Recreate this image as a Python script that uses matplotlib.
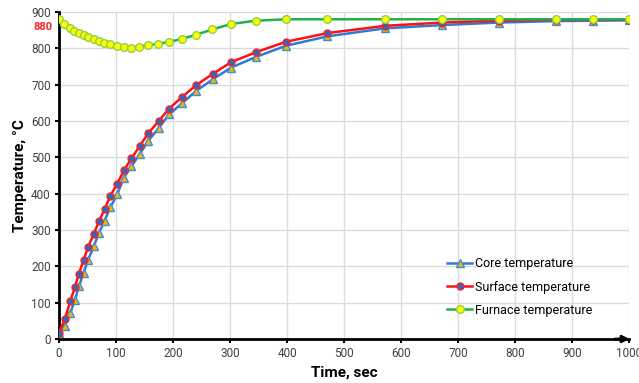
import matplotlib
matplotlib.use("Agg")
import matplotlib.pyplot as plt

time_s = [0, 10, 20, 28, 35, 43, 51, 61, 70, 80, 90, 102, 114, 127, 142, 157,
          175, 193, 216, 240, 270, 302, 345, 398, 471, 572, 672, 772, 872, 936, 1000]
furnace_t = [0, 9.4, 18.7, 27, 35, 43, 51, 61, 70, 79.5, 89.5, 101, 113.5, 126, 140, 155.5,
             174, 193, 215, 240, 269, 302, 345, 398, 471, 572, 672, 772, 872, 936, 1000]
surface = [17, 54, 105, 143, 180, 217, 253, 289, 324, 357, 394, 427, 464, 497, 532, 567,
           600, 634, 666, 698, 730, 762, 789, 818, 842, 862, 871, 876, 879, 879, 879]
core = [17, 37, 72, 108, 145, 182, 218, 255, 291, 326, 362, 398, 444, 475, 510, 546,
        581, 618, 649, 682, 715, 747, 776, 807, 833, 855, 864, 871, 875, 876, 877]
furnace = [880, 867, 857, 848, 842, 836, 830, 825, 820, 815, 811, 807, 805, 802, 805, 808,
           813, 817, 826, 837, 852, 867, 876, 880, 880, 880, 880, 880, 880, 880, 880]

plt.rcParams['font.family'] = ['Roboto', 'DejaVu Sans']

fig = plt.figure(figsize=(6.39, 3.83), dpi=100)
ax = fig.add_axes([59/639, 1 - 339/383, 570/639, 327/383])

ax.plot(time_s, core, color='#2E7BD6', lw=1.8, marker='^', ms=5.5,
        mfc='#F2B600', mec='#3A8EE0', mew=1.0, label='Core temperature', zorder=3)
ax.plot(time_s, surface, color='#FF1010', lw=1.8, marker='o', ms=5,
        mfc='#2E68C0', mec='#FF2020', mew=1.0, label='Surface temperature', zorder=4)
ax.plot(furnace_t, furnace, color='#22B04B', lw=1.8, marker='o', ms=5.5,
        mfc='#FFFF00', mec='#8CD04A', mew=1.0, label='Furnace temperature', zorder=5)

ax.set_xlim(0, 1000)
ax.set_ylim(0, 900)
ax.set_xticks(range(0, 1001, 100))
ax.set_yticks(range(0, 901, 100))
ax.grid(True, color='#DCDCDC', lw=1.0)
ax.set_axisbelow(True)
for s in ['top', 'right']:
    ax.spines[s].set_visible(False)
ax.spines['left'].set_linewidth(2.0)
ax.spines['bottom'].set_linewidth(2.0)
ax.tick_params(axis='both', direction='out', length=3, width=1.5, color='black',
               labelsize=8.5, labelcolor='#404040', pad=3)
ax.annotate('', xy=(1.006, 0), xytext=(0.97, 0), xycoords='axes fraction',
            arrowprops=dict(arrowstyle='-|>', color='black', lw=2, mutation_scale=10),
            annotation_clip=False)

ax.set_xlabel('Time, sec', fontsize=11, fontweight='bold', labelpad=4)
ax.set_ylabel('Temperature, °C', fontsize=11, fontweight='bold', labelpad=3)

ax.text(-0.012, 860, '880', transform=ax.get_yaxis_transform(), ha='right', va='center',
        color='#FF2020', fontsize=8, fontweight='bold')

ax.legend(loc='upper left', bbox_to_anchor=(0.672, 0.265), frameon=False,
          fontsize=9, handlelength=2.0, handletextpad=0.2, labelspacing=0.82,
          borderaxespad=0)

fig.savefig('out.png', dpi=100)
